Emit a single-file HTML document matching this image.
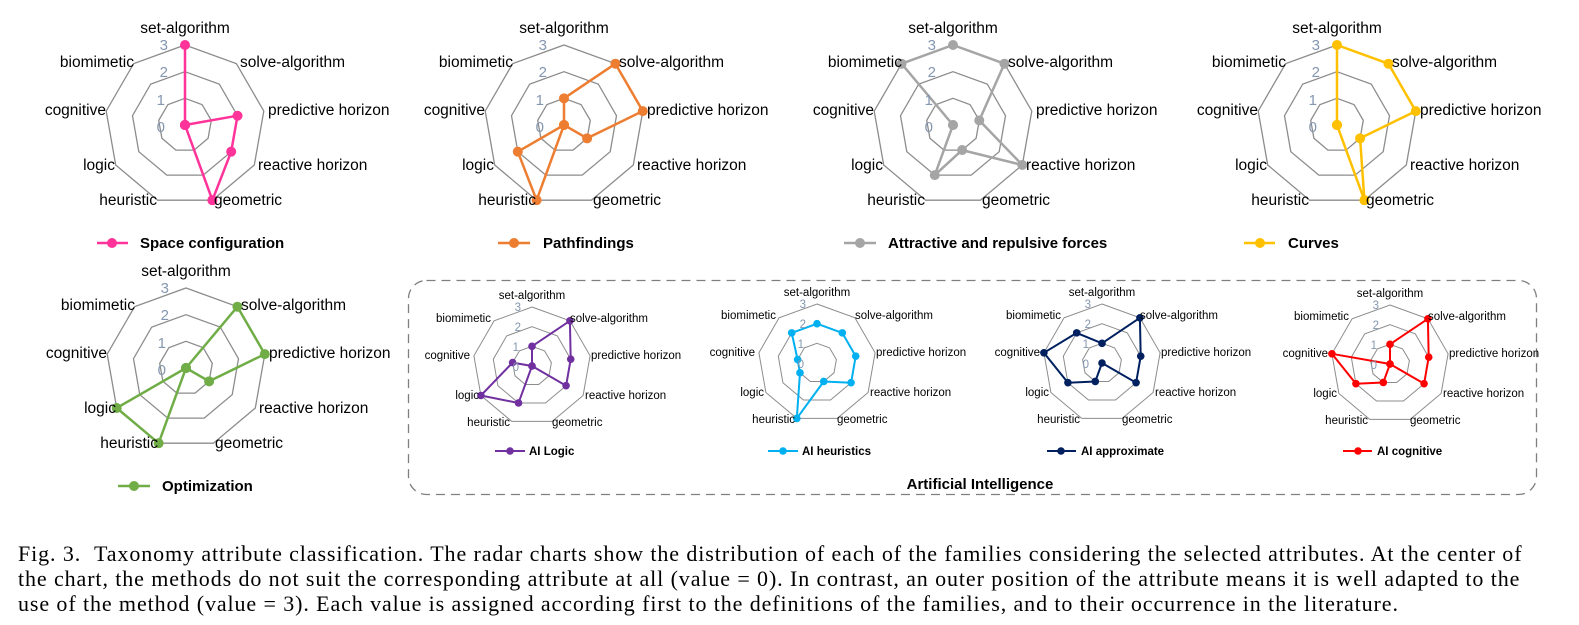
<!DOCTYPE html>
<html><head><meta charset="utf-8">
<style>
body{margin:0;background:#fff;width:1579px;height:625px;overflow:hidden;position:relative}
svg{position:absolute;left:0;top:0}
.b{font-family:"Liberation Sans",sans-serif;font-size:15.5px;fill:#000}
.s{font-family:"Liberation Sans",sans-serif;font-size:11.5px;fill:#000}
.n{font-family:"Liberation Sans",sans-serif;fill:#8497b0}
.lg{font-family:"Liberation Sans",sans-serif;font-weight:bold;fill:#000}
.cap{position:absolute;left:18px;width:1490px;font-family:"Liberation Serif",serif;font-size:22px;letter-spacing:0.9px;line-height:25px;color:#000}
.j{text-align:justify;text-align-last:justify;white-space:nowrap}
</style></head><body>
<svg id="sv" width="1579" height="625" xmlns="http://www.w3.org/2000/svg">
<g id="shapes"></g>
<rect x="408.5" y="280.5" width="1128" height="214" rx="18" fill="none" stroke="#7f7f7f" stroke-width="1.3" stroke-dasharray="9,6"/>

<g transform="translate(185,125)" class="b">
<text x="0" y="-92" text-anchor="middle">set-algorithm</text><text x="55" y="-58">solve-algorithm</text><text x="83" y="-10">predictive horizon</text><text x="73" y="45">reactive horizon</text><text x="29" y="80">geometric</text><text x="-28" y="80" text-anchor="end">heuristic</text><text x="-70" y="45" text-anchor="end">logic</text><text x="-79" y="-10" text-anchor="end">cognitive</text><text x="-51" y="-58" text-anchor="end">biomimetic</text>
<g class="n" font-size="15" text-anchor="end"><text x="-17" y="-75">3</text><text x="-17" y="-48">2</text><text x="-20" y="-20">1</text><text x="-20" y="7">0</text></g></g>
<g transform="translate(564,125)" class="b">
<text x="0" y="-92" text-anchor="middle">set-algorithm</text><text x="55" y="-58">solve-algorithm</text><text x="83" y="-10">predictive horizon</text><text x="73" y="45">reactive horizon</text><text x="29" y="80">geometric</text><text x="-28" y="80" text-anchor="end">heuristic</text><text x="-70" y="45" text-anchor="end">logic</text><text x="-79" y="-10" text-anchor="end">cognitive</text><text x="-51" y="-58" text-anchor="end">biomimetic</text>
<g class="n" font-size="15" text-anchor="end"><text x="-17" y="-75">3</text><text x="-17" y="-48">2</text><text x="-20" y="-20">1</text><text x="-20" y="7">0</text></g></g>
<g transform="translate(953,125)" class="b">
<text x="0" y="-92" text-anchor="middle">set-algorithm</text><text x="55" y="-58">solve-algorithm</text><text x="83" y="-10">predictive horizon</text><text x="73" y="45">reactive horizon</text><text x="29" y="80">geometric</text><text x="-28" y="80" text-anchor="end">heuristic</text><text x="-70" y="45" text-anchor="end">logic</text><text x="-79" y="-10" text-anchor="end">cognitive</text><text x="-51" y="-58" text-anchor="end">biomimetic</text>
<g class="n" font-size="15" text-anchor="end"><text x="-17" y="-75">3</text><text x="-17" y="-48">2</text><text x="-20" y="-20">1</text><text x="-20" y="7">0</text></g></g>
<g transform="translate(1337,125)" class="b">
<text x="0" y="-92" text-anchor="middle">set-algorithm</text><text x="55" y="-58">solve-algorithm</text><text x="83" y="-10">predictive horizon</text><text x="73" y="45">reactive horizon</text><text x="29" y="80">geometric</text><text x="-28" y="80" text-anchor="end">heuristic</text><text x="-70" y="45" text-anchor="end">logic</text><text x="-79" y="-10" text-anchor="end">cognitive</text><text x="-51" y="-58" text-anchor="end">biomimetic</text>
<g class="n" font-size="15" text-anchor="end"><text x="-17" y="-75">3</text><text x="-17" y="-48">2</text><text x="-20" y="-20">1</text><text x="-20" y="7">0</text></g></g>
<g transform="translate(186,368)" class="b">
<text x="0" y="-92" text-anchor="middle">set-algorithm</text><text x="55" y="-58">solve-algorithm</text><text x="83" y="-10">predictive horizon</text><text x="73" y="45">reactive horizon</text><text x="29" y="80">geometric</text><text x="-28" y="80" text-anchor="end">heuristic</text><text x="-70" y="45" text-anchor="end">logic</text><text x="-79" y="-10" text-anchor="end">cognitive</text><text x="-51" y="-58" text-anchor="end">biomimetic</text>
<g class="n" font-size="15" text-anchor="end"><text x="-17" y="-75">3</text><text x="-17" y="-48">2</text><text x="-20" y="-20">1</text><text x="-20" y="7">0</text></g></g>

<g transform="translate(532,366)" class="s">
<text x="0" y="-67" text-anchor="middle">set-algorithm</text><text x="38" y="-44">solve-algorithm</text><text x="59" y="-7">predictive horizon</text><text x="53" y="33">reactive horizon</text><text x="20" y="60">geometric</text><text x="-22" y="60" text-anchor="end">heuristic</text><text x="-53" y="33" text-anchor="end">logic</text><text x="-62" y="-7" text-anchor="end">cognitive</text><text x="-41" y="-44" text-anchor="end">biomimetic</text>
<g class="n" font-size="11.5" text-anchor="end"><text x="-11" y="-55">3</text><text x="-11" y="-35">2</text><text x="-13" y="-15">1</text><text x="-13" y="5">0</text></g></g>
<g transform="translate(817,363)" class="s">
<text x="0" y="-67" text-anchor="middle">set-algorithm</text><text x="38" y="-44">solve-algorithm</text><text x="59" y="-7">predictive horizon</text><text x="53" y="33">reactive horizon</text><text x="20" y="60">geometric</text><text x="-22" y="60" text-anchor="end">heuristic</text><text x="-53" y="33" text-anchor="end">logic</text><text x="-62" y="-7" text-anchor="end">cognitive</text><text x="-41" y="-44" text-anchor="end">biomimetic</text>
<g class="n" font-size="11.5" text-anchor="end"><text x="-11" y="-55">3</text><text x="-11" y="-35">2</text><text x="-13" y="-15">1</text><text x="-13" y="5">0</text></g></g>
<g transform="translate(1102,363)" class="s">
<text x="0" y="-67" text-anchor="middle">set-algorithm</text><text x="38" y="-44">solve-algorithm</text><text x="59" y="-7">predictive horizon</text><text x="53" y="33">reactive horizon</text><text x="20" y="60">geometric</text><text x="-22" y="60" text-anchor="end">heuristic</text><text x="-53" y="33" text-anchor="end">logic</text><text x="-62" y="-7" text-anchor="end">cognitive</text><text x="-41" y="-44" text-anchor="end">biomimetic</text>
<g class="n" font-size="11.5" text-anchor="end"><text x="-11" y="-55">3</text><text x="-11" y="-35">2</text><text x="-13" y="-15">1</text><text x="-13" y="5">0</text></g></g>
<g transform="translate(1390,364)" class="s">
<text x="0" y="-67" text-anchor="middle">set-algorithm</text><text x="38" y="-44">solve-algorithm</text><text x="59" y="-7">predictive horizon</text><text x="53" y="33">reactive horizon</text><text x="20" y="60">geometric</text><text x="-22" y="60" text-anchor="end">heuristic</text><text x="-53" y="33" text-anchor="end">logic</text><text x="-62" y="-7" text-anchor="end">cognitive</text><text x="-41" y="-44" text-anchor="end">biomimetic</text>
<g class="n" font-size="11.5" text-anchor="end"><text x="-11" y="-55">3</text><text x="-11" y="-35">2</text><text x="-13" y="-15">1</text><text x="-13" y="5">0</text></g></g>

<g class="lg" font-size="15">
<line x1="97" y1="243" x2="128" y2="243" stroke="#ff3399" stroke-width="2.5"/><circle cx="112" cy="243" r="5" fill="#ff3399"/><text x="140" y="248">Space configuration</text>
<line x1="498" y1="243" x2="530" y2="243" stroke="#ed7d31" stroke-width="2.5"/><circle cx="514" cy="243" r="5" fill="#ed7d31"/><text x="543" y="248">Pathfindings</text>
<line x1="844" y1="243" x2="876" y2="243" stroke="#a5a5a5" stroke-width="2.5"/><circle cx="860" cy="243" r="5" fill="#a5a5a5"/><text x="888" y="248">Attractive and repulsive forces</text>
<line x1="1244" y1="243" x2="1275" y2="243" stroke="#ffc000" stroke-width="2.5"/><circle cx="1260" cy="243" r="5" fill="#ffc000"/><text x="1288" y="248">Curves</text>
<line x1="118" y1="486" x2="150" y2="486" stroke="#70ad47" stroke-width="2.5"/><circle cx="134" cy="486" r="5" fill="#70ad47"/><text x="162" y="491">Optimization</text>
<text x="980" y="489" text-anchor="middle">Artificial Intelligence</text>
</g>
<g class="lg" font-size="11.5">
<line x1="495" y1="451" x2="525" y2="451" stroke="#7030a0" stroke-width="2"/><circle cx="510" cy="451" r="3.8" fill="#7030a0"/><text x="529" y="455">AI Logic</text>
<line x1="768" y1="451" x2="798" y2="451" stroke="#00b0f0" stroke-width="2"/><circle cx="783" cy="451" r="3.8" fill="#00b0f0"/><text x="802" y="455">AI heuristics</text>
<line x1="1047" y1="451" x2="1076" y2="451" stroke="#002060" stroke-width="2"/><circle cx="1061" cy="451" r="3.8" fill="#002060"/><text x="1081" y="455">AI approximate</text>
<line x1="1343" y1="451" x2="1372" y2="451" stroke="#ff0000" stroke-width="2"/><circle cx="1358" cy="451" r="3.8" fill="#ff0000"/><text x="1377" y="455">AI cognitive</text>
</g>
</svg>
<div class="cap" style="top:541px">
<div class="j">Fig. 3.&nbsp;&nbsp;Taxonomy attribute classification. The radar charts show the distribution of each of the families considering the selected attributes. At the center of</div>
<div class="j">the chart, the methods do not suit the corresponding attribute at all (value = 0). In contrast, an outer position of the attribute means it is well adapted to the</div>
<div style="white-space:nowrap">use of the method (value = 3). Each value is assigned according first to the definitions of the families, and to their occurrence in the literature.</div>
</div>
<script>
(function(){
var NS="http://www.w3.org/2000/svg",g=document.getElementById("shapes");
function el(t,a){var e=document.createElementNS(NS,t);for(var k in a)e.setAttribute(k,a[k]);g.appendChild(e);return e;}
function pt(cx,cy,r,i){var a=(-90+40*i)*Math.PI/180;return [cx+r*Math.cos(a),cy+r*Math.sin(a)];}
function chart(cx,cy,R,vals,col,lw,mr,gw){
 for(var k=1;k<=3;k++){var p=[];for(var i=0;i<9;i++){var q=pt(cx,cy,R*k/3,i);p.push(q[0].toFixed(1)+","+q[1].toFixed(1));}
  el("polygon",{points:p.join(" "),fill:"none",stroke:"#8c8c8c","stroke-width":gw});}
 var p=[],qs=[];for(var i=0;i<9;i++){var q=pt(cx,cy,R*vals[i]/3,i);qs.push(q);p.push(q[0].toFixed(1)+","+q[1].toFixed(1));}
 el("polygon",{points:p.join(" "),fill:"none",stroke:col,"stroke-width":lw,"stroke-linejoin":"round"});
 qs.forEach(function(q){el("circle",{cx:q[0],cy:q[1],r:mr,fill:col});});
}
chart(185,125,80,[3,0,2,2,3,0,0,0,0],"#ff3399",2.5,5,1.3);
chart(564,125,80,[1,3,3,1,0,3,2,0,0],"#ed7d31",2.5,5,1.3);
chart(953,125,80,[3,3,1,3,1,2,0,0,3],"#a5a5a5",2.5,5,1.3);
chart(1337,125,80,[3,3,3,1,3,0,0,0,0],"#ffc000",2.5,5,1.3);
chart(186,368,80,[0,3,3,1,0,3,3,0,0],"#70ad47",2.5,5,1.3);
chart(532,366,59,[1,3,2,2,0,2,3,1,0],"#7030a0",2,3.8,1);
chart(817,363,59,[2,2,2,2,1,3,1,1,2],"#00b0f0",2,3.8,1);
chart(1102,363,59,[1,3,2,2,0,1,2,3,2],"#002060",2,3.8,1);
chart(1390,364,59,[1,3,2,2,0,1,2,3,0],"#ff0000",2,3.8,1);
})();
</script>
</body></html>
